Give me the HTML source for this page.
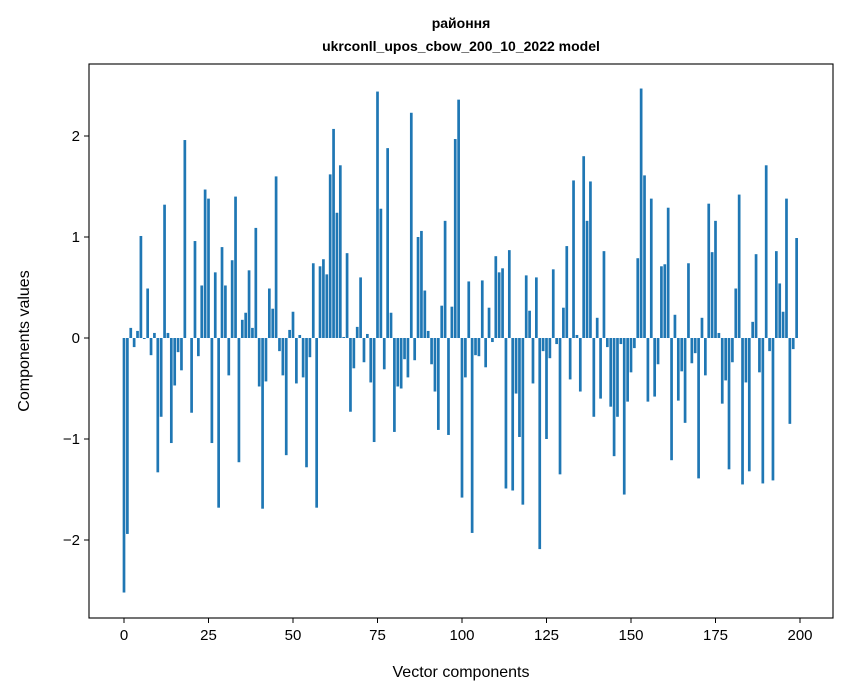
<!DOCTYPE html>
<html><head><meta charset="utf-8">
<style>
html,body{margin:0;padding:0;background:#fff;}
svg{display:block;font-family:"Liberation Sans","DejaVu Sans",sans-serif;}
</style></head>
<body>
<svg id="chart" width="847" height="696" viewBox="0 0 847 696">
<rect width="847" height="696" fill="#fff"/>
<text x="461" y="28" text-anchor="middle" font-size="14" font-weight="bold">районня</text>
<text x="461" y="51" text-anchor="middle" font-size="14" font-weight="bold">ukrconll_upos_cbow_200_10_2022 model</text>
<g id="bars"></g>
<g id="axes"></g>
<text x="461" y="677" text-anchor="middle" font-size="16">Vector components</text>
<text transform="translate(29,341) rotate(-90)" text-anchor="middle" font-size="16">Components values</text>
</svg>
<script>
const values = [
-2.52,-1.94,0.10,-0.09,0.07,1.01,-0.01,0.49,-0.17,0.05,
-1.33,-0.78,1.32,0.05,-1.04,-0.47,-0.14,-0.32,1.96,0.0,
-0.74,0.96,-0.18,0.52,1.47,1.38,-1.04,0.65,-1.68,0.90,
0.52,-0.37,0.77,1.40,-1.23,0.18,0.25,0.67,0.10,1.09,
-0.48,-1.69,-0.43,0.49,0.29,1.60,-0.13,-0.37,-1.16,0.08,
0.26,-0.45,0.03,-0.39,-1.28,-0.19,0.74,-1.68,0.71,0.78,
0.63,1.62,2.07,1.24,1.71,0.01,0.84,-0.73,-0.30,0.11,
0.60,-0.24,0.04,-0.44,-1.03,2.44,1.28,-0.31,1.88,0.25,
-0.93,-0.48,-0.50,-0.21,-0.39,2.23,-0.22,1.00,1.06,0.47,
0.07,-0.26,-0.53,-0.91,0.32,1.16,-0.96,0.31,1.97,2.36,
-1.58,-0.39,0.56,-1.93,-0.17,-0.18,0.57,-0.29,0.30,-0.04,
0.81,0.65,0.69,-1.49,0.87,-1.51,-0.55,-0.98,-1.65,0.62,
0.27,-0.45,0.60,-2.09,-0.13,-1.00,-0.20,0.68,-0.06,-1.35,
0.30,0.91,-0.41,1.56,0.03,-0.53,1.80,1.16,1.55,-0.78,
0.20,-0.60,0.86,-0.09,-0.68,-1.17,-0.78,-0.06,-1.55,-0.63,
-0.34,-0.10,0.79,2.47,1.61,-0.63,1.38,-0.58,-0.26,0.71,
0.73,1.29,-1.21,0.23,-0.62,-0.33,-0.84,0.74,-0.25,-0.15,
-1.39,0.20,-0.37,1.33,0.85,1.16,0.05,-0.65,-0.42,-1.30,
-0.24,0.49,1.42,-1.45,-0.44,-1.32,0.16,0.83,-0.34,-1.44,
1.71,-0.13,-1.41,0.86,0.54,0.26,1.38,-0.85,-0.11,0.99
];
const xTicks = [0,25,50,75,100,125,150,175,200];
const yTicks = [-2,-1,0,1,2];
const yTickLabels = ["\u22122","\u22121","0","1","2"];

const NS="http://www.w3.org/2000/svg";
const L=89,R=833,T=64,B=618;
const x=v=>124+v*3.38;
const y=v=>338-v*101;
const bars=document.getElementById('bars');
values.forEach((v,i)=>{
  const r=document.createElementNS(NS,'rect');
  const w=0.8*3.38;
  r.setAttribute('x',x(i)-w/2);
  r.setAttribute('width',w);
  r.setAttribute('y',Math.min(y(v),y(0)));
  r.setAttribute('height',Math.max(Math.abs(y(v)-y(0)),0.01));
  r.setAttribute('fill','#1f77b4');
  
  
  bars.appendChild(r);
});
const axes=document.getElementById('axes');
const frame=document.createElementNS(NS,'rect');
frame.setAttribute('x',L);frame.setAttribute('y',T);
frame.setAttribute('width',R-L);frame.setAttribute('height',B-T);
frame.setAttribute('fill','none');frame.setAttribute('stroke','#000');frame.setAttribute('stroke-width','1.1');


axes.appendChild(frame);
xTicks.forEach(t=>{
  const l=document.createElementNS(NS,'line');
  l.setAttribute('x1',x(t));l.setAttribute('x2',x(t));l.setAttribute('y1',B);l.setAttribute('y2',B+5);
  l.setAttribute('stroke','#000');
  
  
  axes.appendChild(l);
  const tx=document.createElementNS(NS,'text');
  tx.setAttribute('x',x(t));tx.setAttribute('y',B+22);tx.setAttribute('text-anchor','middle');tx.setAttribute('font-size','15');
  tx.textContent=t;
  
  
  axes.appendChild(tx);
});
yTicks.forEach((t,i)=>{
  const l=document.createElementNS(NS,'line');
  l.setAttribute('x1',L-5);l.setAttribute('x2',L);l.setAttribute('y1',y(t));l.setAttribute('y2',y(t));
  l.setAttribute('stroke','#000');
  
  
  axes.appendChild(l);
  const tx=document.createElementNS(NS,'text');
  tx.setAttribute('x',L-9);tx.setAttribute('y',y(t)+5);tx.setAttribute('text-anchor','end');tx.setAttribute('font-size','15');
  tx.textContent=yTickLabels[i];
  
  
  axes.appendChild(tx);
});
</script>
</body></html>
